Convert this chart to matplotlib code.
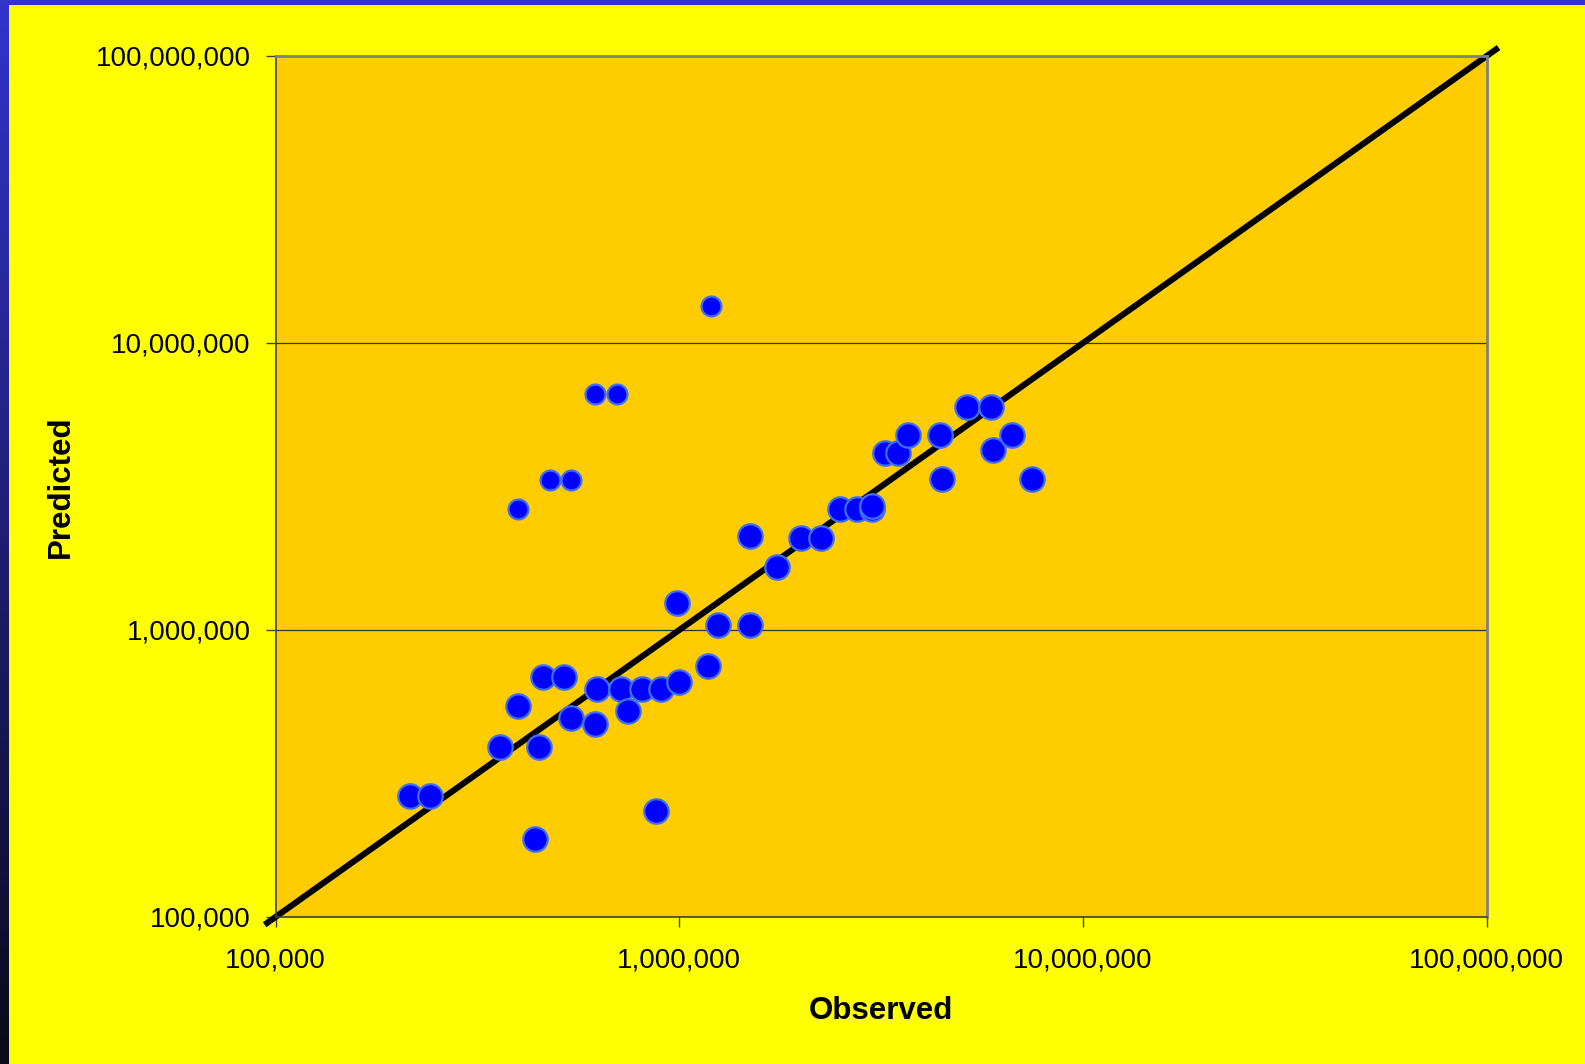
import matplotlib
matplotlib.use('Agg')
import matplotlib.pyplot as plt
import numpy as np
from matplotlib.ticker import FuncFormatter, FixedLocator, NullLocator

plt.rcParams['font.family'] = ['Liberation Sans', 'DejaVu Sans']

# Main set of observations (large markers)
observed = [215e3, 242e3, 360e3, 450e3, 399e3, 459e3, 517e3, 538e3, 617e3, 627e3,
            716e3, 748e3, 807e3, 900e3, 1.00e6, 0.989e6, 1.18e6, 1.25e6, 1.50e6, 1.50e6,
            1.75e6, 2.00e6, 2.25e6, 2.50e6, 2.75e6, 3.00e6, 3.00e6, 3.23e6, 3.49e6, 3.69e6,
            4.43e6, 4.48e6, 5.17e6, 5.92e6, 6.00e6, 6.66e6, 7.48e6, 439e3, 876e3]
predicted = [265e3, 265e3, 391e3, 391e3, 542e3, 684e3, 684e3, 492e3, 472e3, 622e3,
             622e3, 523e3, 622e3, 622e3, 657e3, 1.24e6, 751e3, 1.044e6, 1.044e6, 2.13e6,
             1.654e6, 2.087e6, 2.087e6, 2.634e6, 2.634e6, 2.634e6, 2.70e6, 4.15e6, 4.15e6, 4.77e6,
             4.77e6, 3.37e6, 6.0e6, 6.0e6, 4.24e6, 4.77e6, 3.37e6, 187e3, 235e3]

# Outliers (smaller markers)
observed_small = [618e3, 700e3, 479e3, 538e3, 399e3, 1.20e6]
predicted_small = [6.63e6, 6.63e6, 3.33e6, 3.33e6, 2.64e6, 13.5e6]

# 1:1 reference line
line_ends = [9.4e4, 1.07e8]

ticks = [1e5, 1e6, 1e7, 1e8]

W, H = 1585, 1064
fig = plt.figure(figsize=(W / 100, H / 100), dpi=100)
fig.patch.set_facecolor('#FFFF00')

# blue slide border: gradient strip on the left, solid band on top
grad = fig.add_axes([0, 0, 9 / W, 1])
g = np.linspace(0, 1, 256)[:, None]
top_c = np.array([51, 51, 204]) / 255
bot_c = np.array([10, 10, 26]) / 255
img = (top_c * (1 - g) + bot_c * g)[:, None, :].repeat(2, axis=1)
grad.imshow(img, aspect='auto', extent=[0, 1, 0, 1])
grad.axis('off')
band = fig.add_axes([0, 1 - 5 / H, 1, 5 / H])
band.set_facecolor('#3333CC')
band.set_xticks([])
band.set_yticks([])
for s in band.spines.values():
    s.set_visible(False)

left, right, top, bottom = 275.5, 1486.7, 56, 917
ax = fig.add_axes([left / W, 1 - bottom / H, (right - left) / W, (bottom - top) / H])
ax.set_facecolor('#FFCC00')
ax.set_xscale('log')
ax.set_yscale('log')
ax.set_xlim(1e5, 1e8)
ax.set_ylim(1e5, 1e8)

ax.plot(line_ends, line_ends, color='black', lw=4.4, clip_on=False, zorder=2,
        solid_capstyle='butt')
ax.scatter(observed, predicted, s=310, color='#0000FF', edgecolor='#3F6FFF',
           linewidth=1.6, zorder=3)
ax.scatter(observed_small, predicted_small, s=205, color='#0000FF', edgecolor='#3F6FFF',
           linewidth=1.6, zorder=3)

fmt = FuncFormatter(lambda v, _: f'{v:,.0f}')
for axis in (ax.xaxis, ax.yaxis):
    axis.set_major_locator(FixedLocator(ticks))
    axis.set_minor_locator(NullLocator())
    axis.set_major_formatter(fmt)
ax.tick_params(axis='both', length=7, width=1, color='#404040', labelsize=20)
ax.tick_params(axis='y', pad=11)
ax.tick_params(axis='x', pad=15)

ax.yaxis.grid(True, color='#333333', lw=0.9)
ax.set_axisbelow(True)

for side in ('top', 'right'):
    ax.spines[side].set_color('#808080')
    ax.spines[side].set_linewidth(2)
for side in ('left', 'bottom'):
    ax.spines[side].set_color('#404040')
    ax.spines[side].set_linewidth(1.2)

ax.set_xlabel('Observed', fontsize=22.5, fontweight='bold', labelpad=16)
ax.set_ylabel('Predicted', fontsize=22.5, fontweight='bold', labelpad=14)

fig.savefig('out.png', dpi=100, facecolor=fig.get_facecolor())
